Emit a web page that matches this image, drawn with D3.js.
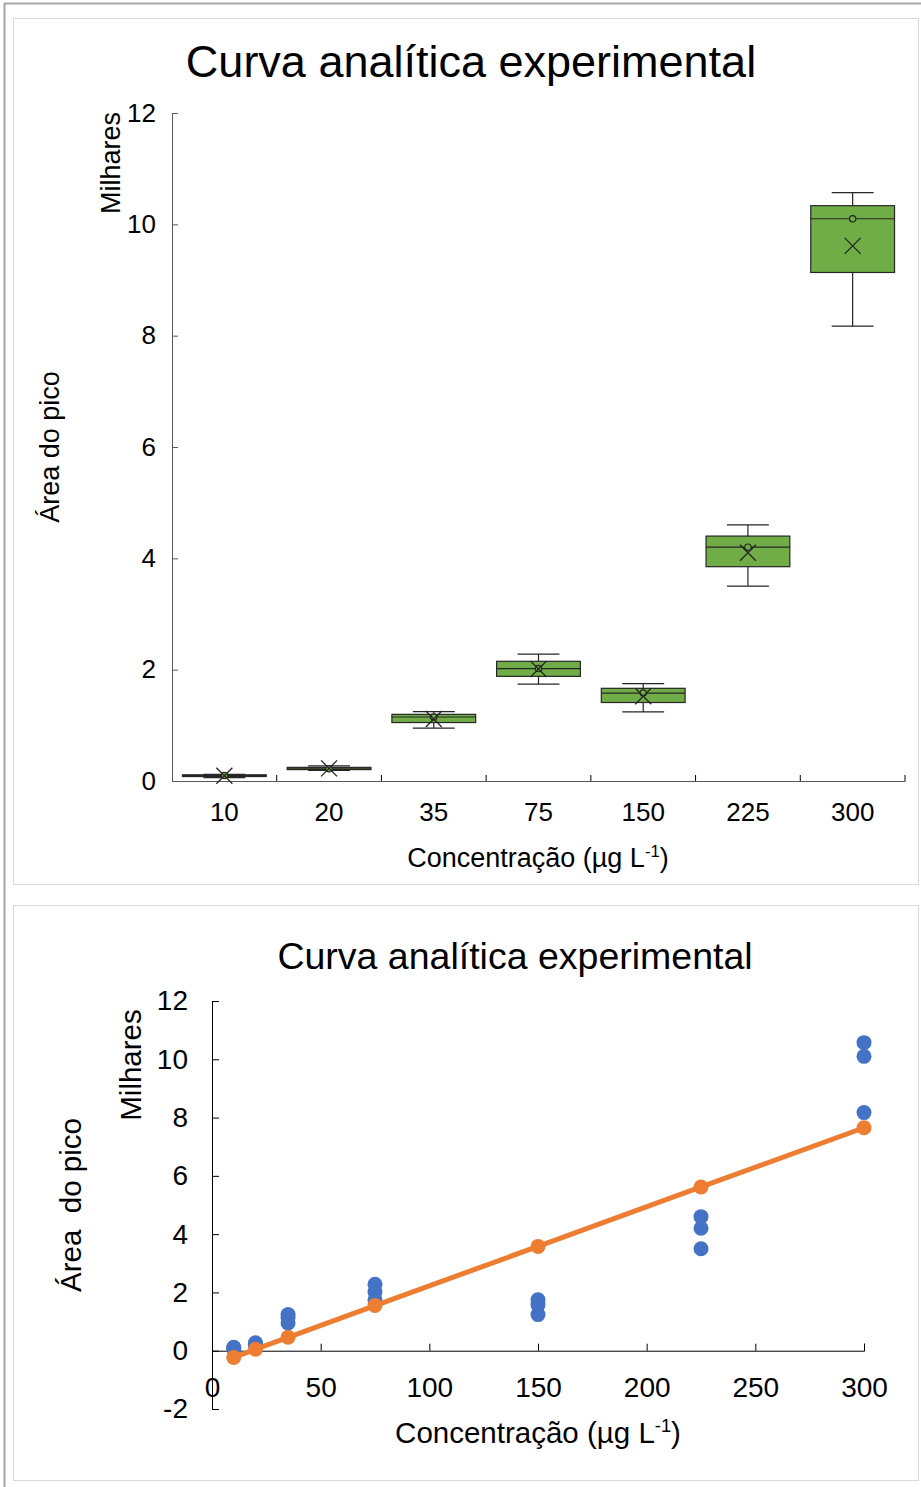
<!DOCTYPE html>
<html>
<head>
<meta charset="utf-8">
<script src="https://cdn.jsdelivr.net/npm/d3@7"></script>
<style>
  body { margin: 0; background: #fff; }
  text { font-family: "Liberation Sans", Arial, sans-serif; fill: #000; }
</style>
</head>
<body>
<div id="chart"></div>
<script>
// concentrations (µg L-1)
const categories = ["10", "20", "35", "75", "150", "225", "300"]
const concentrations = [10, 20, 35, 75, 150, 225, 300]

// peak area replicates, in thousands ("Milhares")
const rep1 = [0.06, 0.19, 0.95, 1.74, 1.24, 3.50, 8.17]
const rep2 = [0.10, 0.22, 1.15, 2.02, 1.58, 4.20, 10.10]
const rep3 = [0.12, 0.27, 1.245, 2.28, 1.75, 4.60, 10.57]

// fitted line values
const fitted = [-0.23, 0.05, 0.46, 1.55, 3.58, 5.62, 7.65]

const yTicksTop = [0, 2, 4, 6, 8, 10, 12]
const yTicksBottom = [-2, 0, 2, 4, 6, 8, 10, 12]
const xTicksBottom = [0, 50, 100, 150, 200, 250, 300]

const W = 921, H = 1487
const GREEN = "#70ad47", BLUE = "#4472c4", ORANGE = "#ed7d31"

const svg = d3.select("#chart").append("svg")
    .attr("width", W)
    .attr("height", H)

// frames
svg.append("line").attr("x1", 4).attr("x2", W).attr("y1", 3.5).attr("y2", 3.5)
    .attr("stroke", "#a6a6a6").attr("stroke-width", 2)
svg.append("line").attr("x1", 4.5).attr("x2", 4.5).attr("y1", 3).attr("y2", H)
    .attr("stroke", "#a6a6a6").attr("stroke-width", 2)
svg.append("rect").attr("x", 13.5).attr("y", 18.5).attr("width", 905).attr("height", 866)
    .attr("fill", "none").attr("stroke", "#d9d9d9")
svg.append("rect").attr("x", 13.5).attr("y", 905.5).attr("width", 905).attr("height", 575)
    .attr("fill", "none").attr("stroke", "#d9d9d9")

const rows = concentrations.map((c, i) => {
    const vals = [rep1[i], rep2[i], rep3[i]].sort(d3.ascending)
    return {
        cat: categories[i],
        conc: c,
        vals: vals,
        min: d3.min(vals),
        q1: d3.quantile(vals, 0.25),
        med: d3.median(vals),
        q3: d3.quantile(vals, 0.75),
        max: d3.max(vals),
        mean: d3.mean(vals),
        fit: fitted[i]
    }
})

function superLabel(sel, size) {
    sel.append("tspan").text("Concentração (µg L")
    sel.append("tspan").text("-1").attr("font-size", size * 0.62).attr("dy", -size * 0.38)
    sel.append("tspan").text(")").attr("dy", size * 0.38)
}

// ---------- top chart: box plot ----------
const gTop = svg.append("g")

const x1 = d3.scaleBand().domain(categories).range([172, 905]).padding(0)
const y1 = d3.scaleLinear().domain([0, 12]).range([781, 113])

gTop.append("text")
    .attr("x", 471).attr("y", 77)
    .attr("text-anchor", "middle")
    .attr("font-size", 45)
    .text("Curva analítica experimental")

const yAxis1 = gTop.append("g")
    .attr("transform", "translate(172,0)")
    .call(d3.axisLeft(y1).tickValues(yTicksTop).tickSize(-6).tickPadding(16))
yAxis1.selectAll("text").attr("font-size", 26).attr("font-family", null)

const xAxis1 = gTop.append("g")
    .attr("transform", "translate(0,781)")
    .call(d3.axisBottom(x1).tickSize(0).tickPadding(22))
xAxis1.selectAll("text").attr("font-size", 26).attr("font-family", null)
// category separator ticks pointing up
xAxis1.selectAll(".sep")
    .data(categories)
    .join("line")
    .attr("class", "sep")
    .attr("x1", d => x1(d) + x1.bandwidth())
    .attr("x2", d => x1(d) + x1.bandwidth())
    .attr("y1", 0).attr("y2", -6)
    .attr("stroke", "#000")
gTop.selectAll(".domain").attr("stroke", "#595959")
yAxis1.selectAll(".tick line").attr("stroke", "#595959")

gTop.append("text")
    .attr("transform", "translate(120,163) rotate(-90)")
    .attr("text-anchor", "middle")
    .attr("font-size", 27)
    .text("Milhares")

gTop.append("text")
    .attr("transform", "translate(59,447) rotate(-90)")
    .attr("text-anchor", "middle")
    .attr("font-size", 27)
    .text("Área do pico")

gTop.append("text")
    .attr("x", 538).attr("y", 867)
    .attr("text-anchor", "middle")
    .attr("font-size", 27)
    .call(superLabel, 27)

const boxW = x1.bandwidth() * 0.8
const boxes = gTop.selectAll(".box").data(rows).join("g")
    .attr("class", "box")
    .attr("transform", d => `translate(${x1(d.cat) + x1.bandwidth() / 2},0)`)

boxes.append("line")
    .attr("y1", d => y1(d.max)).attr("y2", d => y1(d.min))
    .attr("stroke", "#262626").attr("stroke-width", 1.2)
boxes.append("line")
    .attr("x1", -boxW / 4).attr("x2", boxW / 4)
    .attr("y1", d => y1(d.max)).attr("y2", d => y1(d.max))
    .attr("stroke", "#262626").attr("stroke-width", 1.2)
boxes.append("line")
    .attr("x1", -boxW / 4).attr("x2", boxW / 4)
    .attr("y1", d => y1(d.min)).attr("y2", d => y1(d.min))
    .attr("stroke", "#262626").attr("stroke-width", 1.2)
boxes.append("rect")
    .attr("x", -boxW / 2).attr("width", boxW)
    .attr("y", d => y1(d.q3))
    .attr("height", d => Math.max(1, y1(d.q1) - y1(d.q3)))
    .attr("fill", GREEN)
    .attr("stroke", "#262626").attr("stroke-width", 1.2)
boxes.append("line")
    .attr("x1", -boxW / 2).attr("x2", boxW / 2)
    .attr("y1", d => y1(d.med)).attr("y2", d => y1(d.med))
    .attr("stroke", "#262626").attr("stroke-width", 1.2)
boxes.append("circle")
    .attr("cy", d => y1(d.med)).attr("r", 3.2)
    .attr("fill", GREEN)
    .attr("stroke", "#262626").attr("stroke-width", 1.2)
boxes.append("path")
    .attr("d", d => {
        const cy = y1(d.mean)
        return `M-8,${cy - 8}L8,${cy + 8}M-8,${cy + 8}L8,${cy - 8}`
    })
    .attr("stroke", "#262626").attr("stroke-width", 1.3)

// ---------- bottom chart: scatter + fitted line ----------
const gBot = svg.append("g")

const x2 = d3.scaleLinear().domain([0, 300]).range([212, 864])
const y2 = d3.scaleLinear().domain([-2, 12]).range([1409, 1001])

gBot.append("text")
    .attr("x", 515).attr("y", 969)
    .attr("text-anchor", "middle")
    .attr("font-size", 37.5)
    .text("Curva analítica experimental")

const yAxis2 = gBot.append("g")
    .attr("transform", `translate(${x2(0)},0)`)
    .call(d3.axisLeft(y2).tickValues(yTicksBottom).tickSize(-7).tickPadding(24).tickFormat(d => String(d)))
yAxis2.selectAll("text").attr("font-size", 28).attr("font-family", null)

const xAxis2 = gBot.append("g")
    .attr("transform", `translate(0,${y2(0)})`)
    .call(d3.axisBottom(x2).tickValues(xTicksBottom).tickSize(-7).tickPadding(26))
xAxis2.selectAll("text").attr("font-size", 28).attr("font-family", null)
gBot.selectAll(".domain, .tick line").attr("stroke", "#000")

gBot.append("text")
    .attr("transform", "translate(141,1065) rotate(-90)")
    .attr("text-anchor", "middle")
    .attr("font-size", 29.5)
    .text("Milhares")

gBot.append("text")
    .attr("transform", "translate(81,1205) rotate(-90)")
    .attr("text-anchor", "middle")
    .attr("font-size", 29.5)
    .attr("xml:space", "preserve")
    .text("Área  do pico")

gBot.append("text")
    .attr("x", 538).attr("y", 1443)
    .attr("text-anchor", "middle")
    .attr("font-size", 29.5)
    .call(superLabel, 29.5)

const pts = rows.flatMap(d => d.vals.map(v => ({ conc: d.conc, v: v })))
gBot.selectAll(".pt").data(pts).join("circle")
    .attr("class", "pt")
    .attr("cx", d => x2(d.conc))
    .attr("cy", d => y2(d.v))
    .attr("r", 7.5)
    .attr("fill", BLUE)

gBot.append("path")
    .datum(rows)
    .attr("fill", "none")
    .attr("stroke", ORANGE)
    .attr("stroke-width", 5)
    .attr("d", d3.line().x(d => x2(d.conc)).y(d => y2(d.fit)))

gBot.selectAll(".fit").data(rows).join("circle")
    .attr("class", "fit")
    .attr("cx", d => x2(d.conc))
    .attr("cy", d => y2(d.fit))
    .attr("r", 7.5)
    .attr("fill", ORANGE)
</script>
</body>
</html>
